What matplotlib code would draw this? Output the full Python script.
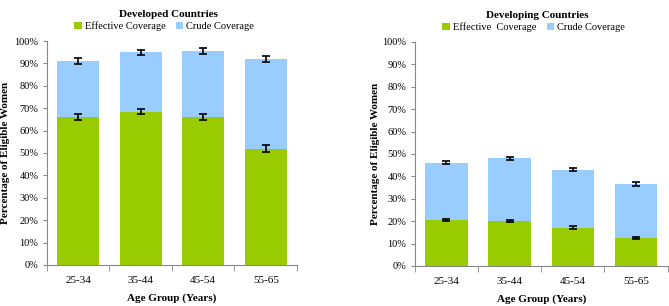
import numpy as np
import matplotlib.pyplot as plt

# Data
age_groups = ["25-34", "35-44", "45-54", "55-65"]

dev_effective = [66.0, 68.5, 66.0, 52.0]
dev_effective_err = [1.3, 1.2, 1.2, 1.4]
dev_crude = [91.0, 95.0, 95.5, 92.0]
dev_crude_err = [1.4, 1.2, 1.3, 1.5]

dvg_effective = [20.5, 20.0, 17.0, 12.5]
dvg_effective_err = [0.5, 0.5, 0.6, 0.6]
dvg_crude = [46.0, 48.0, 43.0, 36.5]
dvg_crude_err = [0.7, 0.7, 0.8, 0.9]

green = "#99CC00"
blue = "#99CCFF"

plt.rcParams['font.family'] = ['Liberation Serif', 'DejaVu Serif']

fig = plt.figure(figsize=(6.69, 3.06), dpi=100)
ax1 = fig.add_axes([0.070, 0.134, 0.374, 0.732])
ax2 = fig.add_axes([0.620, 0.131, 0.378, 0.732])


def draw(ax, title, eff, eff_err, crude, crude_err, eff_label, ylab_x):
    x = np.arange(len(age_groups))
    w = 0.67
    ax.bar(x, crude, w, color=blue, label="Crude Coverage", zorder=1)
    ax.bar(x, eff, w, color=green, label=eff_label, zorder=2)
    ax.errorbar(x, crude, yerr=crude_err, fmt='none', ecolor='black',
                elinewidth=1.2, capsize=3, capthick=1.2, zorder=3)
    ax.errorbar(x, eff, yerr=eff_err, fmt='none', ecolor='black',
                elinewidth=1.2, capsize=3, capthick=1.2, zorder=3)
    ax.set_xlim(-0.5, len(age_groups) - 0.5)
    ax.set_ylim(0, 100)
    ax.set_yticks(range(0, 101, 10))
    ax.set_yticklabels([f"{v}%" for v in range(0, 101, 10)])
    ax.set_xticks(x)
    ax.set_xticklabels(age_groups)
    ax.set_xticks(np.arange(-0.5, len(age_groups), 1.0), minor=True)
    ax.tick_params(axis='x', which='major', length=0, labelsize=8, pad=8)
    ax.tick_params(axis='x', which='minor', length=4, color='#888888')
    ax.tick_params(axis='y', length=3, color='#888888', labelsize=7.5, pad=3)
    for s in ['top', 'right']:
        ax.spines[s].set_visible(False)
    for s in ['left', 'bottom']:
        ax.spines[s].set_color('#888888')
    ax.set_xlabel("Age Group (Years)", fontsize=8, fontweight='bold', labelpad=6)
    ax.set_ylabel("Percentage of Eligible Women", fontsize=8, fontweight='bold')
    ax.yaxis.set_label_coords(ylab_x, 0.5)
    # title and legend sit above the plot area
    ax.text(0.485, 1.12, title, transform=ax.transAxes, ha='center',
            va='center', fontsize=8, fontweight='bold')
    handles, labels = ax.get_legend_handles_labels()
    ax.legend(handles[::-1], labels[::-1], loc='center',
              bbox_to_anchor=(0.47, 1.065), ncol=2, frameon=False, fontsize=7.5,
              handlelength=0.7, handleheight=0.7, handletextpad=0.3,
              columnspacing=1.0, borderaxespad=0.0, borderpad=0.0)


draw(ax1, "Developed Countries", dev_effective, dev_effective_err,
     dev_crude, dev_crude_err, "Effective Coverage", -0.148)
draw(ax2, "Developing Countries", dvg_effective, dvg_effective_err,
     dvg_crude, dvg_crude_err, "Effective  Coverage", -0.138)

fig.savefig("out.png", dpi=100)
